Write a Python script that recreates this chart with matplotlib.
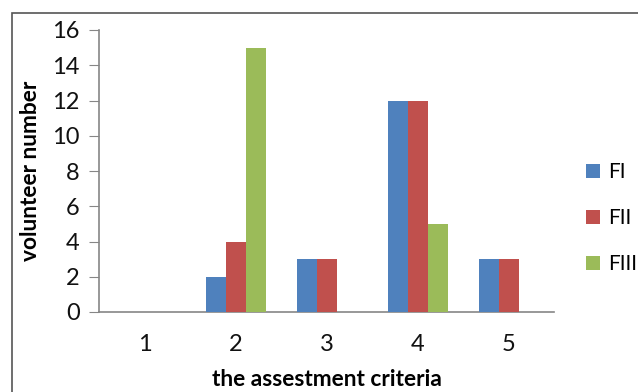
import matplotlib
matplotlib.use("Agg")
import matplotlib.pyplot as plt
from matplotlib.patches import Rectangle, Patch
import numpy as np

categories = ["1", "2", "3", "4", "5"]
series_names = ["FI", "FII", "FIII"]
fi = [0, 2, 3, 12, 3]
fii = [0, 4, 3, 12, 3]
fiii = [0, 15, 0, 5, 0]
colors = ["#4F81BD", "#C0504D", "#9BBB59"]

plt.rcParams['font.family'] = ['Lato', 'DejaVu Sans']

W, H = 638, 392
fig = plt.figure(figsize=(W / 100, H / 100), dpi=100)
ax = fig.add_axes([99 / W, 1 - 312 / H, (554 - 99) / W, (312 - 30) / H])

x = np.arange(len(categories))
bw = 20 / 91
for i, (vals, c) in enumerate(zip([fi, fii, fiii], colors)):
    ax.bar(x + (i - 1) * bw, vals, width=bw, color=c, label=series_names[i], zorder=3)

ax.set_xlim(-0.5, len(categories) - 0.5)
ax.set_ylim(0, 16)
ax.set_yticks(range(0, 17, 2))
ax.set_xticks(x)
ax.set_xticklabels(categories)
for s in ["top", "right"]:
    ax.spines[s].set_visible(False)
for s in ["left", "bottom"]:
    ax.spines[s].set_color("#868686")
    ax.spines[s].set_linewidth(1.2)
ax.tick_params(axis='y', length=7, color="#868686", labelsize=17, pad=7, labelcolor="#111111")
ax.tick_params(axis='x', length=0, labelsize=17, pad=16, labelcolor="#111111")
ax.set_xlabel("the assestment criteria", fontsize=16.4, fontweight='bold', labelpad=10)
ax.set_ylabel("volunteer number", fontsize=16.4, fontweight='bold', labelpad=8)

handles = [Patch(facecolor=c) for c in colors]
fig.legend(handles, series_names, loc='upper left', bbox_to_anchor=(586 / W, 1 - 162 / H),
           frameon=False, fontsize=15, handlelength=0.65, handleheight=0.65,
           handletextpad=0.4, labelspacing=1.25, borderaxespad=0, borderpad=0)

fig.patches.append(Rectangle((12 / W, -0.1), 1.2, 1 - 13 / H + 0.1, transform=fig.transFigure,
                             fill=False, edgecolor="#555555", linewidth=1.2))

fig.savefig("out.png", dpi=100)
